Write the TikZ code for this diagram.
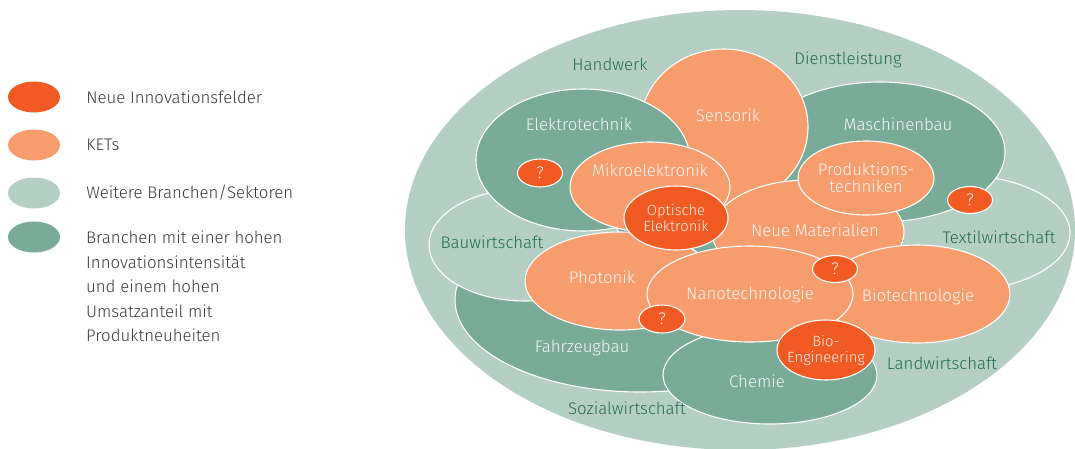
\documentclass[tikz,border=0pt]{standalone}
\usepackage{fontspec}
\setmainfont{Fira Sans Light}
\usetikzlibrary{shapes.geometric, positioning}

\definecolor{newcol}{HTML}{F15A22}
\definecolor{ketcol}{HTML}{F69C6D}
\definecolor{sectorcol}{HTML}{B5CFC4}
\definecolor{branchcol}{HTML}{7AAA98}
\definecolor{labelgreen}{HTML}{1F6B50}
\definecolor{legendgray}{HTML}{3A3A3A}

\begin{document}
\begin{tikzpicture}[x=1pt, y=-1pt]
    % Define styles
    \tikzset{
        area/.style={draw=white, line width=1.1pt},
        branch/.style={area, fill=branchcol},
        sector/.style={area, fill=sectorcol},
        ket/.style={area, fill=ketcol},
        newfield/.style={area, fill=newcol},
        inlabel/.style={text=white, text opacity=0.92, font=\fontsize{16.8}{17}\selectfont, align=center, inner sep=0pt},
        smalllabel/.style={inlabel, font=\fontsize{14.8}{16}\selectfont},
        outlabel/.style={text=labelgreen, font=\fontsize{16.8}{17}\selectfont, inner sep=0pt},
        legdot/.style={ellipse, minimum width=52pt, minimum height=31pt, inner sep=0pt},
        legtext/.style={text=legendgray, font=\fontsize{16.8}{24.5}\selectfont, align=left, inner sep=0pt, anchor=west}
    }
    \useasboundingbox (0,0) rectangle (1075,448);

    % Legend
    \node[legdot, fill=newcol] (leg1) at (34,97) {};
    \node[legdot, fill=ketcol] (leg2) at (34,145) {};
    \node[legdot, fill=sectorcol] (leg3) at (34,193) {};
    \node[legdot, fill=branchcol] (leg4) at (34,237) {};
    \node[legtext, right=26pt of leg1] (legtext1) {Neue Innovationsfelder};
    \node[legtext, right=26pt of leg2] (legtext2) {KETs};
    \node[legtext, right=26pt of leg3] (legtext3) {Weitere Branchen/Sektoren};
    \node[legtext, anchor=north west] (legtext4) at (86,231) {Branchen mit einer hohen\\Innovationsintensität\\und einem hohen\\Umsatzanteil mit\\Produktneuheiten};

    % Outer field
    \path[fill=sectorcol] (740,230) ellipse [x radius=335pt, y radius=220pt];

    % Branches and sectors
    \path[branch] (640,300) ellipse [x radius=185pt, y radius=92pt]; % Fahrzeugbau
    \path[branch] (770,375) ellipse [x radius=107pt, y radius=49pt]; % Chemie
    \path[sector] (525,245) ellipse [x radius=96pt, y radius=56pt]; % Bauwirtschaft
    \path[sector] (958,233) ellipse [x radius=112pt, y radius=58pt]; % Textilwirtschaft
    \path[branch] (880,152) ellipse [x radius=125pt, y radius=70pt]; % Maschinenbau
    \path[ket] (724,127) ellipse [x radius=84pt, y radius=78pt]; % Sensorik
    \path[branch] (583,160) ellipse [x radius=107pt, y radius=71pt]; % Elektrotechnik

    % KETs
    \path[ket] (808,232) ellipse [x radius=96pt, y radius=52pt]; % Neue Materialien
    \path[ket] (650,187) ellipse [x radius=80pt, y radius=45pt]; % Mikroelektronik
    \node[ket, ellipse, minimum width=136pt, minimum height=74pt, inner sep=0pt] (prod) at (866,178) {};
    \path[ket] (620,281) ellipse [x radius=95pt, y radius=49pt]; % Photonik
    \path[ket] (917,294) ellipse [x radius=93pt, y radius=49pt]; % Biotechnologie
    \path[ket] (750,294) ellipse [x radius=103pt, y radius=48pt]; % Nanotechnologie

    % New fields
    \node[newfield, ellipse, minimum width=104pt, minimum height=64pt, inner sep=0pt] (optik) at (676,218) {};
    \node[newfield, ellipse, minimum width=98pt, minimum height=60pt, inner sep=0pt] (bioeng) at (826,350) {};
    \node[newfield, ellipse, minimum width=45pt, minimum height=28pt, inner sep=0pt] (q1) at (540,173) {};
    \node[newfield, ellipse, minimum width=45pt, minimum height=27pt, inner sep=0pt] (q2) at (970,200) {};
    \node[newfield, ellipse, minimum width=45pt, minimum height=27pt, inner sep=0pt] (q3) at (835,269) {};
    \node[newfield, ellipse, minimum width=46pt, minimum height=28pt, inner sep=0pt] (q4) at (662,319) {};

    % Labels inside
    \node[inlabel] (elektro) at (579,124) {Elektrotechnik};
    \node[inlabel] (sensorik) at (728,115) {Sensorik};
    \node[inlabel] (maschinen) at (898,124) {Maschinenbau};
    \node[inlabel] (mikro) at (650,170) {Mikroelektronik};
    \node[inlabel] at (prod) {Produktions-\\techniken};
    \node[smalllabel] at (optik) {Optische\\Elektronik};
    \node[inlabel] (materialien) at (815,230) {Neue Materialien};
    \node[inlabel] (photonik) at (602,277) {Photonik};
    \node[inlabel] (nano) at (750,295) {Nanotechnologie};
    \node[inlabel] (biotech) at (918,297) {Biotechnologie};
    \node[smalllabel] at (bioeng) {Bio-\\Engineering};
    \node[inlabel] (chemie) at (757,381) {Chemie};
    \node[inlabel] (fahrzeug) at (582,348) {Fahrzeugbau};
    \foreach \q in {q1, q2, q3, q4}
        \node[inlabel] at (\q) {?};

    % Labels outside
    \node[outlabel] (handwerk) at (610,64) {Handwerk};
    \node[outlabel] (dienst) at (848,60) {Dienstleistung};
    \node[outlabel] (bau) at (492,242) {Bauwirtschaft};
    \node[outlabel] (textil) at (999,237) {Textilwirtschaft};
    \node[outlabel] (land) at (942,363) {Landwirtschaft};
    \node[outlabel] (sozial) at (627,408) {Sozialwirtschaft};
\end{tikzpicture}
\end{document}
